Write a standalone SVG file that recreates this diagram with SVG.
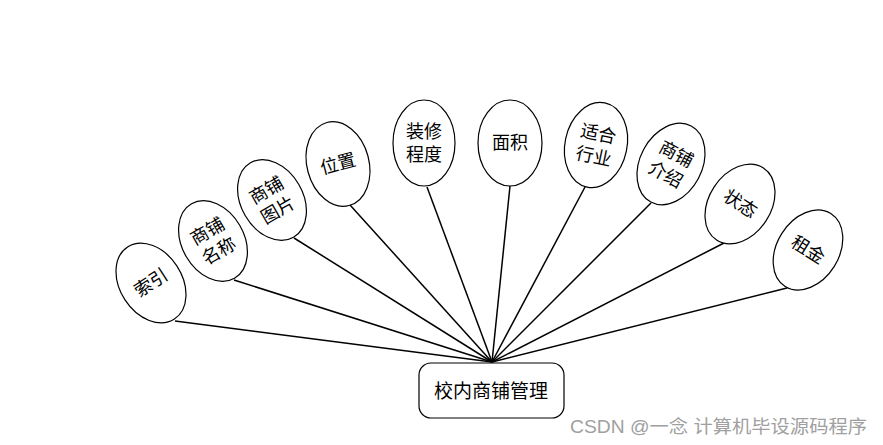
<svg xmlns="http://www.w3.org/2000/svg" width="883" height="445" viewBox="0 0 883 445">
<style>
.e{fill:#fff;stroke:#000;stroke-width:1.2}
.t{font-family:"Liberation Serif","Noto Sans CJK SC",serif;font-size:18px;fill:#000;text-anchor:middle;dominant-baseline:central}
.c{stroke:#000;stroke-width:1.5;fill:none}
.w{font-family:"Liberation Sans","Noto Sans CJK SC",sans-serif;font-size:18px;fill:#a0a0a0}
</style>
<rect width="883" height="445" fill="#fff"/>
<g id="connectors">
<line class="c" x1="175" y1="321" x2="492" y2="362"/>
<line class="c" x1="234" y1="280" x2="492" y2="362"/>
<line class="c" x1="294" y1="238" x2="492" y2="362"/>
<line class="c" x1="350" y1="205" x2="492" y2="362"/>
<line class="c" x1="427" y1="187" x2="492" y2="362"/>
<line class="c" x1="510" y1="186" x2="492" y2="362"/>
<line class="c" x1="585" y1="187" x2="492" y2="362"/>
<line class="c" x1="651" y1="203" x2="492" y2="362"/>
<line class="c" x1="724" y1="243" x2="492" y2="362"/>
<line class="c" x1="787" y1="288" x2="492" y2="362"/>
</g>
<g id="n1" transform="translate(151,283) rotate(-33)">
<ellipse class="e" cx="0" cy="0" rx="31" ry="43"/>
<text class="t" x="0" y="0">索引</text>
</g>
<g id="n2" transform="translate(213,241) rotate(-30)">
<ellipse class="e" cx="0" cy="0" rx="31" ry="43"/>
<text class="t" x="0" y="-11">商铺</text>
<text class="t" x="0" y="12">名称</text>
</g>
<g id="n3" transform="translate(272,200) rotate(-30)">
<ellipse class="e" cx="0" cy="0" rx="31" ry="43"/>
<text class="t" x="0" y="-11">商铺</text>
<text class="t" x="0" y="12">图片</text>
</g>
<g id="n4" transform="translate(338,164) rotate(-15)">
<ellipse class="e" cx="0" cy="0" rx="31" ry="43"/>
<text class="t" x="0" y="0">位置</text>
</g>
<g id="n5" transform="translate(424,143)">
<ellipse class="e" cx="0" cy="0" rx="31" ry="43"/>
<text class="t" x="0" y="-11">装修</text>
<text class="t" x="0" y="12">程度</text>
</g>
<g id="n6" transform="translate(510,143)">
<ellipse class="e" cx="0" cy="0" rx="32" ry="43"/>
<text class="t" x="0" y="0">面积</text>
</g>
<g id="n7" transform="translate(596,145) rotate(12)">
<ellipse class="e" cx="0" cy="0" rx="31" ry="43"/>
<text class="t" x="0" y="-11">适合</text>
<text class="t" x="0" y="12">行业</text>
</g>
<g id="n8" transform="translate(671,164) rotate(28)">
<ellipse class="e" cx="0" cy="0" rx="31" ry="43"/>
<text class="t" x="0" y="-11">商铺</text>
<text class="t" x="0" y="12">介绍</text>
</g>
<g id="n9" transform="translate(740,204) rotate(33)">
<ellipse class="e" cx="0" cy="0" rx="31" ry="43"/>
<text class="t" x="0" y="0">状态</text>
</g>
<g id="n10" transform="translate(808,250) rotate(32)">
<ellipse class="e" cx="0" cy="0" rx="31" ry="43"/>
<text class="t" x="0" y="0">租金</text>
</g>
<g id="hub">
<rect x="419" y="363" width="145" height="55" rx="12" ry="12" fill="#fff" stroke="#000" stroke-width="1.2"/>
<text class="t" x="491" y="391" style="font-size:19px">校内商铺管理</text>
</g>
<text class="w" x="570" y="433" textLength="297" lengthAdjust="spacingAndGlyphs">CSDN @一念 计算机毕设源码程序</text>
</svg>
